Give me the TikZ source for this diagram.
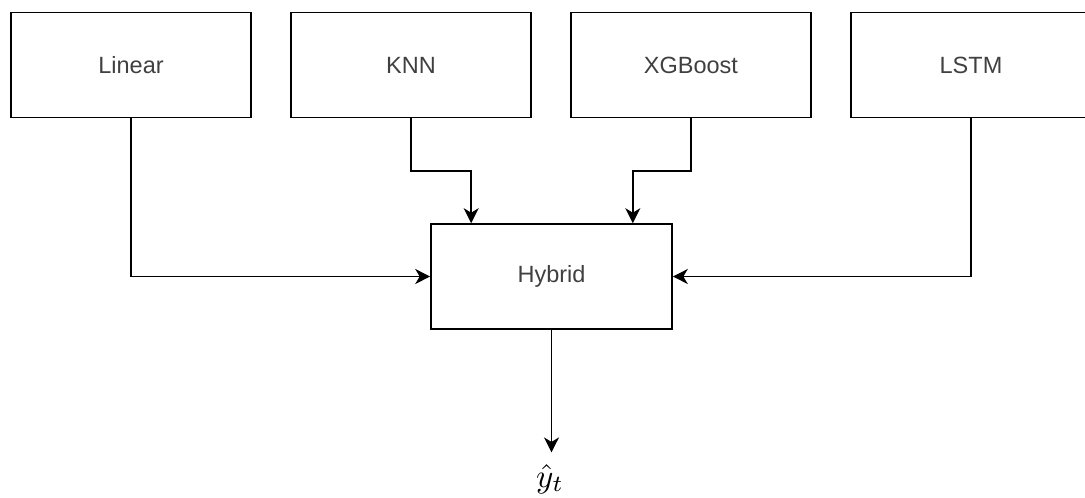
\documentclass[tikz,border=0pt]{standalone}
\usepackage{fontspec}
\setmainfont{Liberation Sans}
\usetikzlibrary{arrows.meta,calc}
\definecolor{labelgray}{HTML}{404040}
\tikzset{
  model/.style={draw=black, line width=1.6pt, fill=white, minimum width=240pt,
    minimum height=105pt, inner sep=0pt, text=labelgray,
    font=\fontsize{23.5}{28}\selectfont},
  arr/.style={line width=1.6pt, draw=black,
    -{Stealth[length=15pt,width=15pt,inset=4.5pt]}},
}
\begin{document}
\begin{tikzpicture}[x=1pt,y=-1pt]
  \useasboundingbox (0,0) rectangle (1085,498);
  % base models in the top row
  \node[model] (lin) at (131,65) {Linear};
  \node[model] (knn) at (411,65) {KNN};
  \node[model] (xgb) at (691,65) {XGBoost};
  \node[model] (lstm) at (971,65) {LSTM};
  % combined model
  \node[model, minimum width=241pt] (hyb) at (551.5,276.5) {Hybrid};
  % output
  \node[inner sep=0pt, scale=3.3, anchor=base] (yhat) at (550,487) {$\hat{y}_t$};
  % entry points on top of the hybrid box
  \coordinate (kin) at ([xshift=41pt]hyb.north west);
  \coordinate (xin) at ([xshift=-40pt]hyb.north east);
  % connectors
  \draw[arr] (lin.south) |- (hyb.west);
  \draw[arr] (lstm.south) |- (hyb.east);
  \draw[arr] (knn.south) |- ($(knn.south)!.5!(kin)$) -| (kin);
  \draw[arr] (xgb.south) |- ($(xgb.south)!.5!(xin)$) -| (xin);
  \draw[arr, shorten >=11pt] (hyb.south) -- (hyb.south |- yhat.north);
\end{tikzpicture}
\end{document}
